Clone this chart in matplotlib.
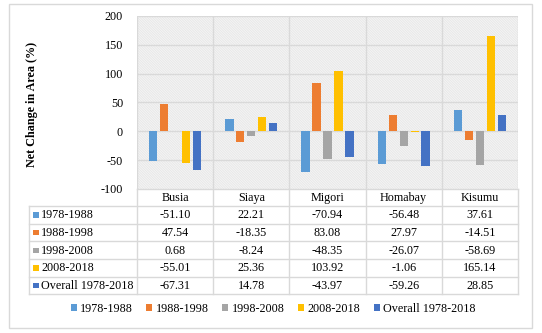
import matplotlib
matplotlib.use("Agg")
import matplotlib.pyplot as plt
from matplotlib.patches import Rectangle, Patch
import numpy as np

# Data
counties = ["Busia", "Siaya", "Migori", "Homabay", "Kisumu"]
periods = ["1978-1988", "1988-1998", "1998-2008", "2008-2018", "Overall 1978-2018"]
v_1978_1988 = [-51.10, 22.21, -70.94, -56.48, 37.61]
v_1988_1998 = [47.54, -18.35, 83.08, 27.97, -14.51]
v_1998_2008 = [0.68, -8.24, -48.35, -26.07, -58.69]
v_2008_2018 = [-55.01, 25.36, 103.92, -1.06, 165.14]
v_overall = [-67.31, 14.78, -43.97, -59.26, 28.85]
series = [v_1978_1988, v_1988_1998, v_1998_2008, v_2008_2018, v_overall]
colors = ["#5B9BD5", "#ED7D31", "#A5A5A5", "#FFC000", "#4472C4"]
yticks = [-100, -50, 0, 50, 100, 150, 200]

plt.rcParams["font.family"] = ["Liberation Serif", "DejaVu Serif"]
plt.rcParams["hatch.color"] = "#DCDCDC"
plt.rcParams["hatch.linewidth"] = 0.4

W, H = 542, 333
DPI = 100
fig = plt.figure(figsize=(W / DPI, H / DPI), dpi=DPI)
fig.patch.set_facecolor("white")

grid_c = "#D9D9D9"
fs = 8.7

# pixel layout helpers
def fx(px):
    return px / W

def fy(py):
    return 1 - py / H

plot_l, plot_r, plot_t, plot_b = 137, 518, 16, 189
ax = fig.add_axes([fx(plot_l), fy(plot_b), fx(plot_r) - fx(plot_l), fy(plot_t) - fy(plot_b)])
ax.set_xlim(0, len(counties))
ax.set_ylim(-100, 200)

# hatched background
bg = Rectangle((0, 0), 1, 1, transform=ax.transAxes, facecolor="white",
               edgecolor="#DCDCDC", hatch="\\" * 20, linewidth=0, zorder=0)
ax.add_patch(bg)

for y in yticks:
    ax.axhline(y, color=grid_c, lw=1.0, zorder=1)
for x in range(len(counties) + 1):
    ax.axvline(x, color=grid_c, lw=1.0, zorder=1)

slot = 0.144
bw = 0.109
centers = np.arange(len(counties)) + 0.5
for i, (vals, c) in enumerate(zip(series, colors)):
    offs = (i - 2) * slot
    ax.bar(centers + offs, vals, width=bw, color=c, zorder=3)

ax.set_xticks([])
ax.set_yticks(yticks)
ax.set_yticklabels([str(t) for t in yticks], fontsize=fs)
ax.tick_params(axis="y", length=0, pad=10)
for s in ax.spines.values():
    s.set_visible(False)

fig.text(fx(32), fy(104), "Net Change in Area (%)", rotation=90, ha="center",
         va="center", fontsize=fs, fontweight="bold")

# overlay in pixel coordinates for the data table, legend and frame
ov = fig.add_axes([0, 0, 1, 1], zorder=-1)
ov.set_xlim(0, W)
ov.set_ylim(H, 0)
ov.axis("off")

ov.add_patch(Rectangle((9, 3.5), 523, 324.5, fill=False, edgecolor=grid_c, lw=1.0))

tab_l = 29
col_w = (plot_r - plot_l) / len(counties)
row_y = [189, 206, 223.5, 241, 259, 276.5, 294]

for x in [plot_l + col_w * k for k in range(len(counties) + 1)]:
    ov.plot([x, x], [row_y[0], row_y[-1]], color=grid_c, lw=1.0)
ov.plot([tab_l, tab_l], [row_y[1], row_y[-1]], color=grid_c, lw=1.0)
ov.plot([plot_l, plot_r], [row_y[0], row_y[0]], color=grid_c, lw=1.0)
for y in row_y[1:]:
    ov.plot([tab_l, plot_r], [y, y], color=grid_c, lw=1.0)

for k, name in enumerate(counties):
    ov.text(plot_l + col_w * (k + 0.5), (row_y[0] + row_y[1]) / 2 + 0.5, name,
            ha="center", va="center", fontsize=fs)

for r, (lab, vals, c) in enumerate(zip(periods, series, colors)):
    yc = (row_y[r + 1] + row_y[r + 2]) / 2 + 0.5
    ov.add_patch(Rectangle((33, yc - 3), 5.5, 5.5, facecolor=c, edgecolor="none"))
    ov.text(41, yc, lab, ha="left", va="center", fontsize=fs)
    for k, v in enumerate(vals):
        ov.text(plot_l + col_w * (k + 0.5), yc, f"{v:.2f}", ha="center",
                va="center", fontsize=fs)

# legend
handles = [Patch(facecolor=c, edgecolor="none", label=p) for p, c in zip(periods, colors)]
fig.legend(handles=handles, loc="center", bbox_to_anchor=(fx(273), fy(309)), ncol=5,
           frameon=False, fontsize=fs, handlelength=0.5, handleheight=0.5,
           handletextpad=0.25, columnspacing=1.15, borderaxespad=0)

fig.savefig("out.png", dpi=DPI, facecolor="white")
